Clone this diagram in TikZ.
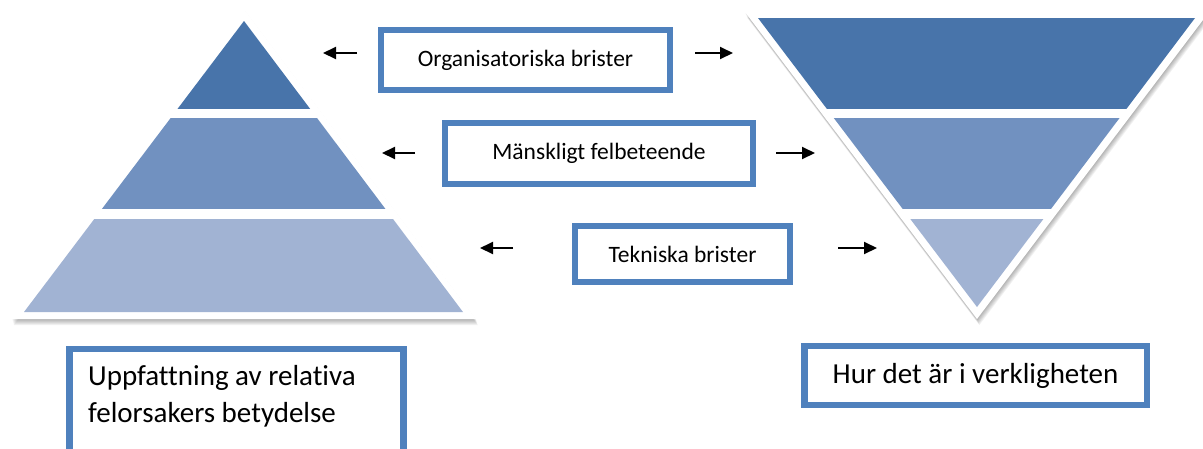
\documentclass[tikz,border=0pt]{standalone}
\usepackage{fontspec}
\setmainfont{Carlito}[Ligatures=NoCommon]
\usetikzlibrary{arrows.meta}
\definecolor{tierdark}{RGB}{72,116,170}
\definecolor{tiermid}{RGB}{113,145,192}
\definecolor{tierlight}{RGB}{161,179,211}
\definecolor{frameblue}{RGB}{79,129,189}

\begin{document}
\begin{tikzpicture}[x=1pt,y=-1pt,
  causebox/.style={draw=frameblue, line width=6pt, fill=white, inner sep=0pt,
    font=\fontsize{23.5}{28}\selectfont},
  bigbox/.style={draw=frameblue, line width=6.5pt, fill=white, inner sep=0pt,
    font=\fontsize{29}{37}\selectfont},
  pointer/.style={line width=2pt, -{Triangle[length=13pt,width=12pt]}},
  shadowlayer/.style={fill=black, opacity=0.055}]
\useasboundingbox (0,0) rectangle (1203,448);
\clip (0,0) rectangle (1203,448);

% ---------- left pyramid ----------
\coordinate (LA) at (244,9);
\coordinate (LL) at (12,319);
\coordinate (LR) at (476,319);
\coordinate (la) at (244,21);
\coordinate (ll) at (24,312);
\coordinate (lr) at (463,312);
\foreach \s in {1,...,6}
  \fill[shadowlayer] ([shift={(0.3*\s,\s)}]LA) -- ([shift={(0.3*\s,\s)}]LL)
    -- ([shift={(0.3*\s,\s)}]LR) -- cycle;
\fill[white] (LA) -- (LL) -- (LR) -- cycle;
\begin{scope}
  \clip (la) -- (ll) -- (lr) -- cycle;
  \fill[tierdark]  (0,0)   rectangle (480,109);
  \fill[tiermid]   (0,118) rectangle (480,209);
  \fill[tierlight] (0,219) rectangle (480,320);
\end{scope}

% ---------- inverted pyramid ----------
\coordinate (RL) at (745,12);
\coordinate (RR) at (1209,12);
\coordinate (RA) at (977,319);
\coordinate (rl) at (758,18);
\coordinate (rr) at (1195,18);
\coordinate (ra) at (977,307);
\foreach \s in {1,...,6}
  \fill[shadowlayer] ([shift={(0.4*\s,\s)}]RL) -- ([shift={(0.4*\s,\s)}]RR)
    -- ([shift={(0.4*\s,\s)}]RA) -- cycle;
\fill[white] (RL) -- (RR) -- (RA) -- cycle;
\begin{scope}
  \clip (rl) -- (rr) -- (ra) -- cycle;
  \fill[tierdark]  (740,0)   rectangle (1210,109);
  \fill[tiermid]   (740,118) rectangle (1210,209);
  \fill[tierlight] (740,219) rectangle (1210,320);
\end{scope}

% ---------- cause boxes ----------
\node[causebox, minimum width=289pt, minimum height=60pt] (org) at (525.5,60)
  {Organisatoriska brister};
\node[causebox, minimum width=308pt, minimum height=61pt] (human) at (599,153.5)
  {Mänskligt felbeteende};
\node[causebox, minimum width=215pt, minimum height=56pt] (tech) at (682.5,254)
  {Tekniska brister};

% ---------- arrows ----------
\coordinate (o1) at (357,53);  \coordinate (o2) at (323,53);
\coordinate (o3) at (695,53);  \coordinate (o4) at (733,53);
\coordinate (h1) at (415,153); \coordinate (h2) at (382,153);
\coordinate (h3) at (776,153); \coordinate (h4) at (815,153);
\coordinate (t1) at (513,248); \coordinate (t2) at (480,248);
\coordinate (t3) at (838,248); \coordinate (t4) at (877,248);
\draw[pointer] (o1) -- (o2);
\draw[pointer] (o3) -- (o4);
\draw[pointer] (h1) -- (h2);
\draw[pointer] (h3) -- (h4);
\draw[pointer] (t1) -- (t2);
\draw[pointer] (t3) -- (t4);

% ---------- captions ----------
\node[bigbox, minimum width=334pt, minimum height=140pt, anchor=north west]
  (percep) at (66,345.5) {};
\node[anchor=west, align=left, inner sep=0pt, font=\fontsize{29}{37}\selectfont]
  (perceptext) at (88,396) {Uppfattning av relativa\\felorsakers betydelse};
\node[bigbox, minimum width=342.5pt, minimum height=59pt] (reality) at (975.5,375.5)
  {Hur det är i verkligheten};
\end{tikzpicture}
\end{document}
